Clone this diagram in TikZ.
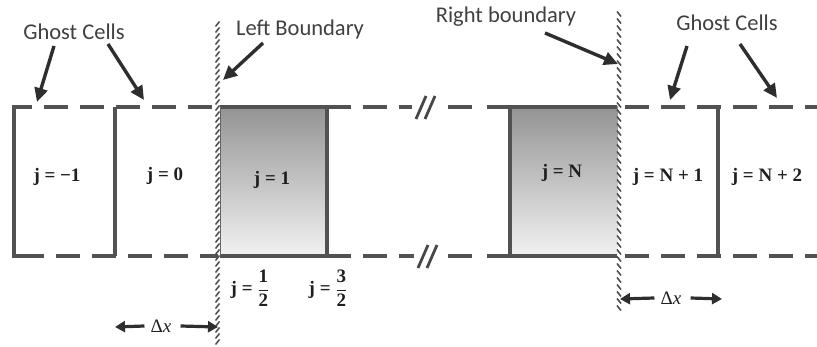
\documentclass[tikz,border=0pt]{standalone}
\usepackage{amsmath}
\usepackage{fontspec}
\setmainfont{Liberation Serif}
\newfontfamily\lab{Carlito}
\usetikzlibrary{arrows.meta}
\begin{document}
\begin{tikzpicture}[x=1pt,y=-1pt,
  gridl/.style={line width=3.2pt, draw=black!68},
  gridd/.style={gridl, dash pattern=on 24pt off 12pt},
  lbl/.style={font=\lab\fontsize{22.5}{25}\selectfont, text=black!75, inner sep=0pt},
  cl/.style={font=\fontsize{19}{21}\selectfont\bfseries, text=black!88, inner sep=1pt},
  ptr/.style={line width=3.4pt, draw=black!82, -{Triangle[length=14pt,width=13pt]}},
  dxa/.style={line width=3.2pt, draw=black!82, -{Triangle[length=10pt,width=11pt]}},
  hatch/.style={line width=1.5pt, draw=black!70},
  brk/.style={line width=2.8pt, draw=black!72},
]
\useasboundingbox (0,0) rectangle (817,347);

% shaded interior cells
\shade[top color=black!42, bottom color=black!5] (220,107) rectangle (327,256);
\shade[top color=black!42, bottom color=black!5] (510,107) rectangle (618,256);

% left ghost cells
\draw[gridl] (30,107) -- (14,107) -- (14,256) -- (20,256);
\draw[gridd, dash phase=-14pt] (30,107) -- (218,107);
\draw[gridd] (20,256) -- (218,256);
\draw[gridl] (115,107) -- (115,256);

% cell j=1
\draw[gridl] (220,107) -- (327,107) -- (327,256) -- (220,256);
\draw[line width=1pt, draw=black!60] (220,107) -- (220,256);
\draw[gridd] (327,107) -- (412,107);
\draw[gridd] (327,256) -- (414,256);

% break marks
\draw[brk] (416,119) -- (426,96);
\draw[brk] (425,119) -- (435,96);
\draw[brk] (418,268) -- (428,245);
\draw[brk] (427,268) -- (437,245);

\draw[gridl] (448,107) -- (472,107);
\draw[gridl] (448,256) -- (472,256);

% cell j=N
\draw[gridl] (487,107) -- (617,107);
\draw[gridl] (487,256) -- (617,256);
\draw[gridl] (510,107) -- (510,256);

% right ghost cells
\draw[gridd, dash phase=-4pt] (621,107) -- (817,107);
\draw[gridd, dash phase=-4pt] (621,256) -- (817,256);
\draw[gridl] (718,107) -- (718,256);

% boundaries (hatched)
\foreach \y in {24,30,...,342} \draw[hatch] (215.5,\y+2.5) -- (219.5,\y-2.5);
\foreach \y in {14,21,...,314} \draw[hatch] (617,\y-2.5) -- (621,\y+2.5);

% cell labels
\node[cl] (cm1) at (57,177) {j = −1};
\node[cl] (c0) at (165,176) {j = 0};
\node[cl] (c1) at (272,180) {j = 1};
\node[cl] (cN) at (562,173) {j = N};
\node[cl] (cN1) at (668,177) {j = N + 1};
\node[cl] (cN2) at (767,177) {j = N + 2};

% half indices
\node[cl] (h1) at (250,288) {j = $\genfrac{}{}{0.5pt}{0}{\textbf{1}}{\textbf{2}}$};
\node[cl] (h3) at (328,288) {j = $\genfrac{}{}{0.5pt}{0}{\textbf{3}}{\textbf{2}}$};

% delta x
\node[cl, font=\fontsize{19}{21}\selectfont] (dxl) at (161,326) {Δ\textit{x}};
\coordinate (dxlL) at (115,327);
\coordinate (dxlR) at (218,327);
\draw[dxa] (dxl.west) ++(-5,0) -- (dxlL);
\draw[dxa] (dxl.east) ++(8,0) -- (dxlR);
\node[cl, font=\fontsize{19}{21}\selectfont] (dxr) at (671,298) {Δ\textit{x}};
\coordinate (dxrL) at (620,299);
\coordinate (dxrR) at (722,299);
\draw[dxa] (dxr.west) ++(-5,0) -- (dxrL);
\draw[dxa] (dxr.east) ++(8,0) -- (dxrR);

% top labels
\node[lbl] (gl) at (74,32) {Ghost Cells};
\node[lbl] (lb) at (300,30) {Left Boundary};
\node[lbl] (rb) at (506,17) {Right boundary};
\node[lbl] (gr) at (727,23) {Ghost Cells};

\coordinate (a1s) at (54,46);  \coordinate (a1e) at (37,102);
\coordinate (a2s) at (108,44); \coordinate (a2e) at (144,100);
\coordinate (a3s) at (263,43); \coordinate (a3e) at (223,80);
\coordinate (a4s) at (545,33); \coordinate (a4e) at (618,64);
\coordinate (a5s) at (687,46); \coordinate (a5e) at (670,100);
\coordinate (a6s) at (740,44); \coordinate (a6e) at (777,98);
\draw[ptr] (a1s) -- (a1e);
\draw[ptr] (a2s) -- (a2e);
\draw[ptr] (a3s) -- (a3e);
\draw[ptr] (a4s) -- (a4e);
\draw[ptr] (a5s) -- (a5e);
\draw[ptr] (a6s) -- (a6e);
\end{tikzpicture}
\end{document}
